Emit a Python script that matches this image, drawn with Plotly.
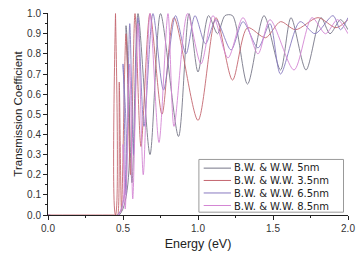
import plotly.graph_objects as go

# Extrema (energy in eV, transmission coefficient)
x_5nm = [0.0, 0.475, 0.52, 0.56, 0.60, 0.68, 0.75, 0.87, 0.94, 1.00, 1.07, 1.13, 1.18, 1.23, 1.33, 1.44, 1.55, 1.62, 1.72, 1.82, 1.88, 1.95, 2.0]
y_5nm = [0.0, 0.0, 0.94, 0.16, 1.0, 0.30, 1.0, 0.39, 1.0, 0.71, 0.99, 0.90, 0.99, 0.99, 0.65, 0.99, 0.72, 0.98, 0.72, 0.98, 0.90, 0.97, 0.92]

x_35nm = [0.0, 0.44, 0.45, 0.45, 0.45, 0.46, 0.465, 0.475, 0.49, 0.52, 0.55, 0.58, 0.62, 0.68, 0.76, 0.84, 1.00, 1.12, 1.23, 1.33, 1.45, 1.55, 1.65, 1.80, 1.92, 2.0]
y_35nm = [0.0, 0.0, 0.0, 1.0, 0.0, 0.0, 0.0, 0.66, 0.02, 0.90, 0.20, 1.0, 0.34, 1.0, 0.50, 0.98, 0.47, 0.98, 0.67, 0.93, 0.88, 0.96, 0.92, 0.98, 0.93, 0.97]

x_65nm = [0.0, 0.465, 0.50, 0.52, 0.545, 0.57, 0.60, 0.64, 0.70, 0.77, 0.85, 0.92, 0.98, 1.05, 1.12, 1.22, 1.30, 1.40, 1.48, 1.55, 1.68, 1.78, 1.90, 1.95, 2.0]
y_65nm = [0.0, 0.0, 0.75, 0.10, 0.95, 0.30, 0.98, 0.44, 1.0, 0.62, 0.99, 0.80, 0.99, 0.85, 0.97, 0.82, 0.96, 0.83, 0.95, 0.70, 0.96, 0.90, 0.99, 0.92, 0.98]

x_85nm = [0.0, 0.47, 0.50, 0.515, 0.545, 0.565, 0.60, 0.635, 0.68, 0.74, 0.80, 0.84, 0.93, 1.02, 1.10, 1.20, 1.30, 1.40, 1.48, 1.64, 1.76, 1.85, 1.93, 2.0]
y_85nm = [0.0, 0.0, 0.35, 0.03, 0.75, 0.08, 0.95, 0.20, 1.0, 0.36, 1.0, 0.44, 1.0, 0.75, 0.99, 0.78, 0.98, 0.80, 0.97, 0.72, 0.98, 0.90, 0.97, 0.90]

names = ["B.W. & W.W. 5nm", "B.W. & W.W. 3.5nm", "B.W. & W.W. 6.5nm", "B.W. & W.W. 8.5nm"]
colors = ["#777788", "#c4666f", "#887ac0", "#d486d4"]
series = [(x_5nm, y_5nm), (x_35nm, y_35nm), (x_65nm, y_65nm), (x_85nm, y_85nm)]

fig = go.Figure()
for (xs, ys), nm, c in zip(series, names, colors):
    fig.add_trace(go.Scatter(x=xs, y=ys, mode="lines", name=nm, showlegend=False,
                             line=dict(color=c, width=0.9, shape="spline", smoothing=0.8)))

# Compact legend box (the built-in legend rows are too tall for this small figure)
leg_x0, leg_x1, leg_y0, leg_y1 = 0.503, 0.985, 0.014, 0.275
row_y = [0.232, 0.171, 0.109, 0.047]
shapes = [dict(type="rect", xref="paper", yref="paper", x0=leg_x0, x1=leg_x1, y0=leg_y0, y1=leg_y1,
               line=dict(color="#999999", width=1), fillcolor="white", layer="above")]
for c, ry in zip(colors, row_y):
    shapes.append(dict(type="line", xref="paper", yref="paper", x0=0.519, x1=0.610, y0=ry, y1=ry,
                       line=dict(color=c, width=1), layer="above"))
annotations = [dict(xref="paper", yref="paper", x=0.614, y=0.140, xanchor="left", yanchor="middle",
                    align="left", text="<br>".join(names), showarrow=False,
                    font=dict(family="DejaVu Sans", size=10, color="#222222"))]

axis_font = dict(family="Liberation Sans, Arial", size=10, color="#333333")
fig.update_layout(
    width=363, height=257,
    margin=dict(l=48, r=9, t=8, b=38),
    paper_bgcolor="white", plot_bgcolor="white",
    font=dict(family="Liberation Sans, Arial", color="#222222"),
    showlegend=False,
    shapes=shapes, annotations=annotations,
    xaxis=dict(range=[0, 2.0], tickvals=[0, 0.5, 1.0, 1.5, 2.0],
               ticktext=["0.0", "0.5", "1.0", "1.5", "2.0"],
               ticks="outside", ticklen=4, tickwidth=1, tickcolor="#222",
               minor=dict(dtick=0.25, ticks="outside", ticklen=2, tickcolor="#222", showgrid=False),
               showline=True, linecolor="#222", linewidth=1, showgrid=False, zeroline=False,
               tickfont=axis_font,
               title=dict(text="Energy (eV)", font=dict(family="Liberation Sans, Arial", size=12.5, color="#222"), standoff=6)),
    yaxis=dict(range=[0, 1.003], tickvals=[0, 0.1, 0.2, 0.3, 0.4, 0.5, 0.6, 0.7, 0.8, 0.9, 1.0],
               ticktext=["0.0", "0.1", "0.2", "0.3", "0.4", "0.5", "0.6", "0.7", "0.8", "0.9", "1.0"],
               ticks="outside", ticklen=4, tickwidth=1, tickcolor="#222",
               minor=dict(dtick=0.05, ticks="outside", ticklen=2, tickcolor="#222", showgrid=False),
               showline=True, linecolor="#222", linewidth=1, showgrid=False, zeroline=False,
               tickfont=axis_font,
               title=dict(text="Transmission Coefficient", font=dict(family="Liberation Sans, Arial", size=11.5, color="#222"), standoff=2)),
)
fig.write_html("out.html")
